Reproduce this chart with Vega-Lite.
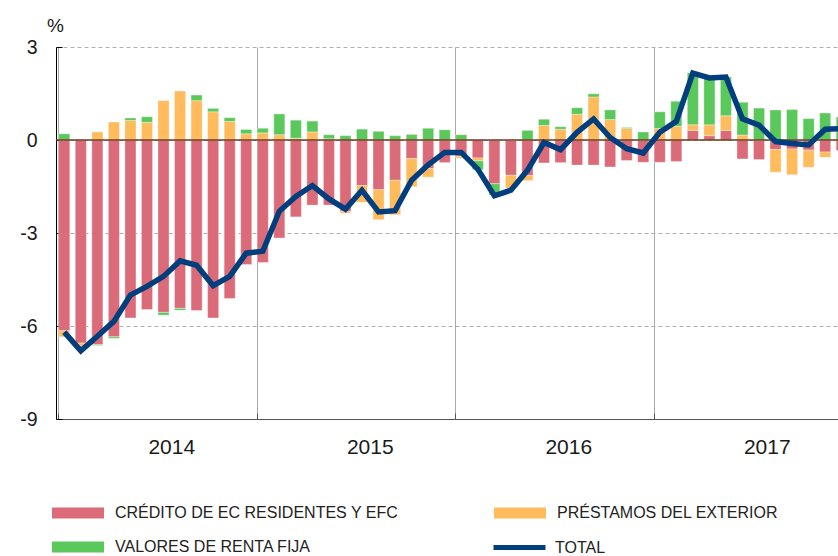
{
  "$schema": "https://vega.github.io/schema/vega-lite/v6.json",
  "width": 782,
  "height": 372,
  "autosize": {"type": "none"},
  "padding": {"left": 56, "top": 47, "right": 0, "bottom": 137},
  "background": "white",
  "config": {"view": {"stroke": null}, "font": "Liberation Sans"},
  "data": {"values": [
    {"m": "2014-01", "c": -6.15, "p": -0.2, "r": 0.2, "t": -6.2},
    {"m": "2014-02", "c": -6.55, "p": -0.1, "r": -0.08, "t": -6.8},
    {"m": "2014-03", "c": -6.6, "p": 0.26, "r": -0.03, "t": -6.33},
    {"m": "2014-04", "c": -6.35, "p": 0.58, "r": -0.05, "t": -5.85},
    {"m": "2014-05", "c": -5.74, "p": 0.63, "r": 0.08, "t": -5.0},
    {"m": "2014-06", "c": -5.47, "p": 0.57, "r": 0.18, "t": -4.72},
    {"m": "2014-07", "c": -5.56, "p": 1.27, "r": -0.09, "t": -4.4},
    {"m": "2014-08", "c": -5.43, "p": 1.58, "r": -0.06, "t": -3.9},
    {"m": "2014-09", "c": -5.5, "p": 1.27, "r": 0.18, "t": -4.04},
    {"m": "2014-10", "c": -5.74, "p": 0.91, "r": 0.11, "t": -4.7},
    {"m": "2014-11", "c": -5.11, "p": 0.6, "r": 0.12, "t": -4.4},
    {"m": "2014-12", "c": -4.02, "p": 0.2, "r": 0.14, "t": -3.65},
    {"m": "2015-01", "c": -3.95, "p": 0.23, "r": 0.15, "t": -3.59},
    {"m": "2015-02", "c": -3.16, "p": 0.17, "r": 0.67, "t": -2.3},
    {"m": "2015-03", "c": -2.48, "p": 0.06, "r": 0.58, "t": -1.82},
    {"m": "2015-04", "c": -2.1, "p": 0.26, "r": 0.35, "t": -1.47},
    {"m": "2015-05", "c": -2.1, "p": 0.04, "r": 0.13, "t": -1.9},
    {"m": "2015-06", "c": -2.3, "p": -0.06, "r": 0.14, "t": -2.23},
    {"m": "2015-07", "c": -1.47, "p": -0.54, "r": 0.35, "t": -1.62},
    {"m": "2015-08", "c": -1.6, "p": -0.97, "r": 0.28, "t": -2.32},
    {"m": "2015-09", "c": -1.3, "p": -1.11, "r": 0.14, "t": -2.28},
    {"m": "2015-10", "c": -0.6, "p": -0.91, "r": 0.18, "t": -1.3},
    {"m": "2015-11", "c": -0.92, "p": -0.28, "r": 0.38, "t": -0.8},
    {"m": "2015-12", "c": -0.73, "p": 0, "r": 0.33, "t": -0.4},
    {"m": "2016-01", "c": -0.53, "p": -0.06, "r": 0.17, "t": -0.4},
    {"m": "2016-02", "c": -0.58, "p": -0.09, "r": -0.29, "t": -0.94},
    {"m": "2016-03", "c": -1.41, "p": 0, "r": -0.36, "t": -1.8},
    {"m": "2016-04", "c": -1.14, "p": -0.41, "r": 0, "t": -1.62},
    {"m": "2016-05", "c": -1.15, "p": -0.16, "r": 0.31, "t": -0.98},
    {"m": "2016-06", "c": -0.74, "p": 0.47, "r": 0.2, "t": -0.08},
    {"m": "2016-07", "c": -0.73, "p": 0.35, "r": 0.08, "t": -0.31},
    {"m": "2016-08", "c": -0.81, "p": 0.83, "r": 0.21, "t": 0.25},
    {"m": "2016-09", "c": -0.81, "p": 1.39, "r": 0.1, "t": 0.68},
    {"m": "2016-10", "c": -0.87, "p": 0.66, "r": 0.31, "t": 0.08},
    {"m": "2016-11", "c": -0.66, "p": 0.37, "r": 0.03, "t": -0.28},
    {"m": "2016-12", "c": -0.72, "p": 0, "r": 0.26, "t": -0.42},
    {"m": "2017-01", "c": -0.72, "p": 0.37, "r": 0.54, "t": 0.25},
    {"m": "2017-02", "c": -0.69, "p": 0.44, "r": 0.81, "t": 0.6},
    {"m": "2017-03", "c": 0.31, "p": 0.18, "r": 1.68, "t": 2.16},
    {"m": "2017-04", "c": 0.14, "p": 0.35, "r": 1.51, "t": 2.0},
    {"m": "2017-05", "c": 0.31, "p": 0.47, "r": 1.25, "t": 2.03},
    {"m": "2017-06", "c": -0.61, "p": 0.16, "r": 1.06, "t": 0.68},
    {"m": "2017-07", "c": -0.63, "p": 0, "r": 1.03, "t": 0.48},
    {"m": "2017-08", "c": -0.31, "p": -0.73, "r": 0.97, "t": -0.05},
    {"m": "2017-09", "c": -0.29, "p": -0.83, "r": 0.98, "t": -0.11},
    {"m": "2017-10", "c": -0.33, "p": -0.55, "r": 0.69, "t": -0.16},
    {"m": "2017-11", "c": -0.39, "p": -0.17, "r": 0.87, "t": 0.35},
    {"m": "2017-12", "c": -0.34, "p": 0, "r": 0.74, "t": 0.37}
  ]},
  "layer": [
    {
      "transform": [{"fold": ["c", "p", "r"], "as": ["k", "v"]}],
      "mark": {"type": "bar", "stroke": "white", "strokeWidth": 1, "strokeOpacity": 0.35},
      "encoding": {
        "x": {
          "field": "m", "type": "ordinal", "title": null,
          "scale": {"range": [0, 794], "paddingInner": 0.33, "paddingOuter": 0.165},
          "axis": {
            "values": ["2014-01", "2015-01", "2016-01", "2017-01"],
            "bandPosition": 0,
            "labelExpr": "substring(datum.label, 0, 4)",
            "labelOffset": 107.5,
            "labelAngle": 0,
            "labelAlign": "center",
            "labelBaseline": "alphabetic",
            "labelFontSize": 21,
            "labelColor": "#1a1a1a",
            "labelPadding": 40,
            "labelOverlap": false,
            "tickSize": -6,
            "tickColor": "#555",
            "domainColor": "#555",
            "grid": true,
            "gridColor": "#aaaaaa",
            "gridWidth": 1
          }
        },
        "y": {
          "field": "v", "type": "quantitative", "stack": "zero", "title": "%",
          "scale": {"domain": [-9, 3]},
          "axis": {
            "values": [-9, -6, -3, 0, 3],
            "labelExpr": "datum.value + ''",
            "titleAngle": 0, "titleX": -1, "titleY": -16,
            "titleAlign": "center", "titleBaseline": "alphabetic",
            "titleFontSize": 19, "titleFontWeight": "normal", "titleColor": "#1a1a1a",
            "labelFontSize": 19.5, "labelColor": "#1a1a1a",
            "labelPadding": 25, "labelFlush": false, "labelBaseline": "middle",
            "tickSize": -6, "tickColor": "#000", "domainColor": "#000",
            "grid": true, "gridColor": "#b0b0b0", "gridDash": [4, 3]
          }
        },
        "fill": {
          "field": "k", "type": "nominal",
          "scale": {"domain": ["c", "p", "r"], "range": ["#DB6B78", "#FFBB5C", "#5BC85B"]},
          "legend": {
            "orient": "none", "legendX": -4, "legendY": 440,
            "direction": "horizontal", "columns": 2,
            "columnPadding": 95, "rowPadding": -18,
            "title": null, "padding": 0,
            "symbolType": "M-1,-0.2115H1V0.2115H-1Z", "symbolSize": 2704,
            "symbolStrokeWidth": 0, "symbolOpacity": 1,
            "labelFont": "Liberation Sans", "labelFontSize": 16,
            "labelColor": "#222", "labelOffset": 11, "labelLimit": 400,
            "labelExpr": "datum.label == 'c' ? 'CRÉDITO DE EC RESIDENTES Y EFC' : datum.label == 'p' ? 'PRÉSTAMOS DEL EXTERIOR' : 'VALORES DE RENTA FIJA'"
          }
        },
        "order": {"field": "k", "type": "nominal"}
      }
    },
    {
      "data": {"values": [{"z": 0}]},
      "mark": {"type": "rule", "color": "#6A3C22", "strokeWidth": 1.3},
      "encoding": {"y": {"field": "z", "type": "quantitative"}}
    },
    {
      "mark": {"type": "line", "strokeWidth": 5.5, "strokeJoin": "miter"},
      "encoding": {
        "x": {"field": "m", "type": "ordinal", "title": null},
        "y": {"field": "t", "type": "quantitative", "title": "%"},
        "stroke": {
          "datum": "TOTAL", "type": "nominal",
          "scale": {"domain": ["TOTAL"], "range": ["#003E7E"]},
          "legend": {
            "orient": "none", "legendX": 435, "legendY": 472,
            "title": null, "padding": 0,
            "symbolType": "stroke", "symbolSize": 2704, "symbolStrokeWidth": 5,
            "labelFont": "Liberation Sans", "labelFontSize": 16,
            "labelColor": "#222", "labelOffset": 7, "labelLimit": 400
          }
        }
      }
    }
  ]
}
